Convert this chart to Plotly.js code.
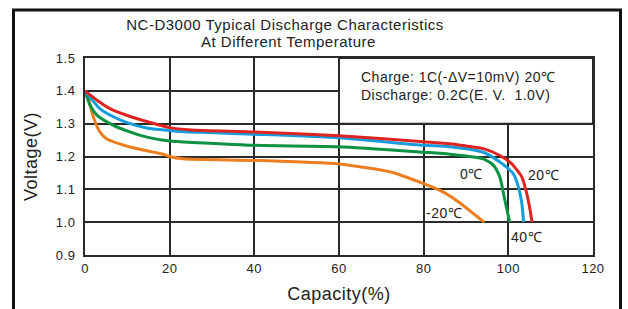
<!DOCTYPE html>
<html>
<head>
<meta charset="utf-8">
<script src="https://cdn.plot.ly/plotly-3.0.1.min.js"></script>
<style>
body{margin:0;padding:0;background:#fff}
.annotation-text, .gtitle, .xtitle, .ytitle, .xtick text, .ytick text {letter-spacing: 0.5px;}
</style>
</head>
<body>
<div id="chart" style="width:628px;height:309px"></div>
<script>
// Data
const cap20 = [0, 3, 6, 10, 15, 20, 25, 40, 60, 80, 86.2, 90, 94.1, 98, 100.8, 103.2, 104.3, 105.1, 105.6];
const v20   = [1.40, 1.37, 1.345, 1.325, 1.305, 1.288, 1.281, 1.275, 1.263, 1.245, 1.239, 1.232, 1.224, 1.203, 1.178, 1.137, 1.090, 1.040, 1.000];

const cap40 = [0, 3.5, 6.7, 10.6, 14.6, 20, 22.4, 40, 60, 80, 86.2, 94.1, 98, 101.2, 102.4, 103.2, 103.6];
const v40   = [1.40, 1.346, 1.321, 1.300, 1.287, 1.279, 1.276, 1.268, 1.257, 1.234, 1.230, 1.213, 1.183, 1.147, 1.106, 1.056, 1.000];

const cap0 = [0, 1.2, 2.8, 6.7, 10.6, 14.6, 20, 22.4, 40, 60, 80, 86.2, 94.1, 96.5, 98, 99.2, 100.3];
const v0   = [1.40, 1.356, 1.326, 1.295, 1.275, 1.259, 1.247, 1.245, 1.234, 1.230, 1.213, 1.207, 1.193, 1.173, 1.137, 1.066, 1.000];

const capM20 = [0, 0.8, 1.6, 2.4, 3.5, 5.1, 10.6, 18.5, 20, 23.2, 40, 60, 72.5, 80, 84, 88, 94.3];
const vM20   = [1.40, 1.377, 1.336, 1.305, 1.275, 1.254, 1.229, 1.207, 1.200, 1.193, 1.188, 1.177, 1.152, 1.117, 1.096, 1.064, 1.000];

const xTicks = [0, 20, 40, 60, 80, 100, 120];
const yTicks = [0.9, 1.0, 1.1, 1.2, 1.3, 1.4, 1.5];

const titleLine1 = 'NC-D3000 Typical Discharge Characteristics';
const titleLine2 = 'At Different Temperature';
const noteLine1 = 'Charge: 1C(-ΔV=10mV) 20℃';
const noteLine2 = 'Discharge: 0.2C(E. V.  1.0V)';

const labelText = ['0℃', '20℃', '-20℃', '40℃'];
const labelX = [91.2, 108.2, 84.8, 104.4];
const labelY = [1.148, 1.145, 1.029, 0.956];

const colors = {r: 'rgb(222,36,32)', b: 'rgb(22,157,222)', g: 'rgb(12,146,66)', o: 'rgb(236,126,32)'};

function tr(x, y, c) {
  return {x: x, y: y, type: 'scatter', mode: 'lines',
    line: {color: c, width: 3, shape: 'spline', smoothing: 0.6},
    hoverinfo: 'skip', showlegend: false};
}

const data = [
  tr(capM20, vM20, colors.o),
  tr(cap0, v0, colors.g),
  tr(cap40, v40, colors.b),
  tr(cap20, v20, colors.r)
];

const fontFam = 'Liberation Sans, Arial, sans-serif';
const annotations = labelText.map((t, i) => ({
  x: labelX[i], y: labelY[i], xref: 'x', yref: 'y', text: t, showarrow: false,
  font: {family: fontFam, size: 14, color: '#222'}, xanchor: 'center', yanchor: 'middle'
}));
annotations.push({
  x: 64.7, y: 1.443, xref: 'x', yref: 'y', xanchor: 'left', yanchor: 'middle', showarrow: false,
  text: noteLine1, font: {family: fontFam, size: 14, color: '#222'}
});
annotations.push({
  x: 64.7, y: 1.388, xref: 'x', yref: 'y', xanchor: 'left', yanchor: 'middle', showarrow: false,
  text: noteLine2, font: {family: fontFam, size: 14, color: '#222'}
});
annotations.push({
  x: (288 - 85) / 508, y: (255 - 41) / 197, xref: 'paper', yref: 'paper',
  xanchor: 'center', yanchor: 'middle', showarrow: false,
  text: titleLine2, font: {family: fontFam, size: 15, color: '#222'}
});

const layout = {
  width: 628, height: 309,
  margin: {l: 85, r: 35, t: 58, b: 54},
  paper_bgcolor: '#fff', plot_bgcolor: '#fff',
  title: {
    text: titleLine1,
    xref: 'container', yref: 'container', x: 285 / 628, y: 1 - 24.5 / 309,
    xanchor: 'center', yanchor: 'middle',
    font: {family: fontFam, size: 15, color: '#222'}
  },
  xaxis: {
    range: [0, 120], tickvals: xTicks, ticktext: xTicks.map(String),
    showgrid: true, gridcolor: '#2a2a2a', gridwidth: 2,
    showline: true, linecolor: '#2a2a2a', linewidth: 2, mirror: true,
    zeroline: false, ticks: '', ticklen: 0,
    tickfont: {family: fontFam, size: 13, color: '#222'},
    title: {text: 'Capacity(%)', font: {family: fontFam, size: 18, color: '#222'}, standoff: 13}
  },
  yaxis: {
    range: [0.9, 1.5], tickvals: yTicks, ticktext: yTicks.map(v => v.toFixed(1)),
    showgrid: true, gridcolor: '#2a2a2a', gridwidth: 2,
    showline: true, linecolor: '#2a2a2a', linewidth: 2, mirror: true,
    zeroline: false, ticks: '', ticklen: 0, ticklabelstandoff: 5,
    tickfont: {family: fontFam, size: 13, color: '#222'},
    title: {text: 'Voltage(V)', font: {family: fontFam, size: 18, color: '#222'}, standoff: 14}
  },
  shapes: [
    {type: 'rect', xref: 'x', yref: 'y', x0: 60, x1: 120, y0: 1.3, y1: 1.5,
     fillcolor: '#fff', line: {color: '#2a2a2a', width: 2}, layer: 'between'},
    {type: 'rect', xref: 'paper', yref: 'paper',
     x0: (13.5 - 85) / 508, x1: (620.5 - 85) / 508,
     y0: (255 - 330) / 197, y1: (255 - 10) / 197,
     fillcolor: 'rgba(0,0,0,0)', line: {color: '#111', width: 3}, layer: 'above'}
  ],
  annotations: annotations
};

Plotly.newPlot('chart', data, layout, {staticPlot: true, displayModeBar: false});
</script>
</body>
</html>
